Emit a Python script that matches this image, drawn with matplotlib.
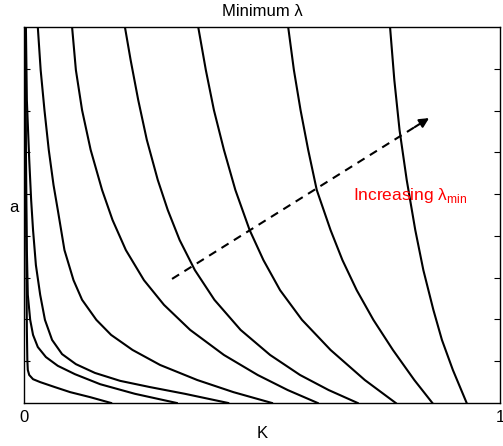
import numpy as np
import matplotlib
matplotlib.use("Agg")
import matplotlib.pyplot as plt

plt.rcParams['font.family'] = ['Liberation Sans', 'DejaVu Sans']
plt.rcParams['mathtext.fontset'] = 'custom'
plt.rcParams['mathtext.rm'] = 'Liberation Sans'

# level curves of the minimum eigenvalue, smallest lambda first
curve1_K = [0.002, 0.004, 0.006, 0.007, 0.008, 0.011, 0.019, 0.034, 0.065, 0.097, 0.139, 0.183]
curve1_a = [0.900, 0.486, 0.175, 0.103, 0.079, 0.067, 0.057, 0.050, 0.038, 0.026, 0.014, 0.0]

curve2_K = [0.002, 0.004, 0.006, 0.008, 0.013, 0.019, 0.029, 0.046, 0.071, 0.107, 0.160, 0.233, 0.321]
curve2_a = [0.900, 0.606, 0.366, 0.259, 0.199, 0.163, 0.134, 0.110, 0.089, 0.069, 0.045, 0.022, 0.0]

curve3_K = [0.004, 0.006, 0.011, 0.015, 0.019, 0.025, 0.034, 0.044, 0.059, 0.080, 0.109, 0.149,
            0.202, 0.265, 0.338, 0.429]
curve3_a = [0.900, 0.725, 0.582, 0.486, 0.414, 0.330, 0.259, 0.199, 0.151, 0.117, 0.093, 0.072,
            0.053, 0.038, 0.022, 0.0]

curve4_K = [0.029, 0.035, 0.043, 0.052, 0.062, 0.071, 0.085, 0.104, 0.122, 0.152, 0.183, 0.228,
            0.286, 0.364, 0.440, 0.521]
curve4_a = [0.900, 0.797, 0.701, 0.606, 0.522, 0.462, 0.366, 0.294, 0.247, 0.199, 0.163, 0.127,
            0.091, 0.055, 0.026, 0.0]

curve5_K = [0.101, 0.109, 0.122, 0.140, 0.164, 0.186, 0.214, 0.252, 0.294, 0.349, 0.420, 0.491,
            0.554, 0.617]
curve5_a = [0.900, 0.797, 0.701, 0.606, 0.510, 0.438, 0.366, 0.294, 0.235, 0.175, 0.115, 0.067,
            0.031, 0.0]

curve6_K = [0.212, 0.224, 0.240, 0.258, 0.281, 0.302, 0.327, 0.359, 0.400, 0.455, 0.517, 0.580,
            0.640, 0.701]
curve6_a = [0.900, 0.821, 0.725, 0.630, 0.534, 0.462, 0.390, 0.318, 0.247, 0.175, 0.115, 0.067,
            0.031, 0.0]

curve7_K = [0.366, 0.382, 0.399, 0.420, 0.444, 0.474, 0.503, 0.538, 0.584, 0.644, 0.716, 0.781]
curve7_a = [0.900, 0.797, 0.701, 0.606, 0.510, 0.414, 0.342, 0.270, 0.199, 0.127, 0.055, 0.0]

curve8_K = [0.555, 0.567, 0.581, 0.597, 0.615, 0.644, 0.669, 0.699, 0.734, 0.775, 0.820, 0.858]
curve8_a = [0.900, 0.797, 0.701, 0.606, 0.510, 0.414, 0.342, 0.270, 0.199, 0.127, 0.055, 0.0]

curve9_K = [0.769, 0.778, 0.789, 0.804, 0.822, 0.839, 0.860, 0.878, 0.901, 0.930]
curve9_a = [0.900, 0.773, 0.653, 0.534, 0.414, 0.318, 0.223, 0.151, 0.079, 0.0]

curves = [(curve1_K, curve1_a), (curve2_K, curve2_a), (curve3_K, curve3_a),
          (curve4_K, curve4_a), (curve5_K, curve5_a), (curve6_K, curve6_a),
          (curve7_K, curve7_a), (curve8_K, curve8_a), (curve9_K, curve9_a)]

arrow_start = (0.311, 0.297)
arrow_end = (0.851, 0.682)

fig = plt.figure(figsize=(5.03, 4.46), dpi=100)
ax = fig.add_axes([24/503, 43/446, 476/503, 376/446])

for K, a in curves:
    ax.plot(K, a, color='k', lw=1.5, solid_joinstyle='round')

# dashed direction arrow, head drawn separately so it stays solid
ax.plot([arrow_start[0], arrow_end[0] - 0.02], [arrow_start[1], arrow_end[1] - 0.0143],
        color='k', lw=1.5, ls=(0, (4, 3)))
ax.annotate('', xy=arrow_end, xytext=(arrow_end[0] - 0.03, arrow_end[1] - 0.0215),
            arrowprops=dict(arrowstyle='-|>', color='k', lw=1.5, mutation_scale=14,
                            shrinkA=0, shrinkB=0))

ax.text(0.691, 0.486, r'Increasing λ$_{\mathrm{min}}$', color='red', fontsize=12.5,
        ha='left', va='baseline')

ax.set_xlim(0, 1)
ax.set_ylim(0, 0.9)
ax.set_xticks([0, 1])
ax.set_xticklabels(['0', '1'])
ax.set_yticks(np.arange(0.1, 0.85, 0.1))
ax.set_yticklabels([])
ax.tick_params(axis='x', length=0, pad=5, labelsize=12)
ax.tick_params(axis='y', direction='in', length=4, width=0.8, left=True, right=True)
for s in ax.spines.values():
    s.set_linewidth(1.0)

ax.set_title('Minimum λ', fontsize=12, pad=8)
ax.set_xlabel('K', fontsize=12)
ax.xaxis.set_label_coords(0.5, -0.062)
ax.set_ylabel('a', rotation=0, fontsize=12, ha='center', va='center')
ax.yaxis.set_label_coords(-0.021, 0.519)

fig.savefig('out.png', dpi=100)
